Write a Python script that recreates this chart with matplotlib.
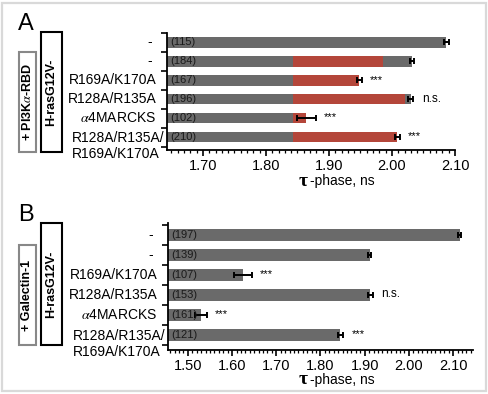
import numpy as np
import matplotlib
matplotlib.use('Agg')
import matplotlib.pyplot as plt
from matplotlib.patches import Rectangle
from matplotlib.ticker import MultipleLocator

plt.rcParams['font.family'] = ['Liberation Sans', 'DejaVu Sans']
plt.rcParams['mathtext.fontset'] = 'stix'

W, H = 488, 394

# ── Data ──────────────────────────────────────────────────────────────────────
row_labels = ['- ', '- ', 'R169A/K170A', 'R128A/R135A', r'$\alpha$4MARCKS',
              'R128A/R135A/\nR169A/K170A']
sig = ['', '', '***', 'n.s.', '***', '***']

a_counts  = [115, 184, 167, 196, 102, 210]
a_tau     = [2.086, 2.032, 1.948, 2.030, 1.864, 2.008]
a_err     = [0.004, 0.003, 0.004, 0.004, 0.015, 0.004]
a_red_lo  = 1.843
a_red_hi  = [np.nan, 1.986, 1.948, 2.020, 1.864, 2.008]

b_counts  = [197, 139, 107, 153, 161, 121]
b_tau     = [2.115, 1.911, 1.624, 1.913, 1.530, 1.845]
b_err     = [0.003, 0.004, 0.020, 0.005, 0.013, 0.006]

GRAY = '#6a6a6a'
RED  = '#b4463a'

fig = plt.figure(figsize=(W / 100, H / 100), dpi=100, facecolor='white')

def px_ax(l, t, r, b):
    return fig.add_axes([l / W, 1 - b / H, (r - l) / W, (b - t) / H])

# light frame round the whole figure
fig.patches.append(Rectangle((2 / W, 3 / H), 484 / W, 388 / H, transform=fig.transFigure,
                             fill=False, ec='#d9d9d9', lw=1.6))

def panel(ax, tau, err, counts, xlim, ylim, height, red_hi=None, red_lo=None):
    y = np.arange(len(tau))
    ax.barh(y, np.array(tau) - xlim[0], left=xlim[0], height=height, color=GRAY, zorder=1)
    if red_hi is not None:
        hi = np.array(red_hi)
        ok = ~np.isnan(hi)
        ax.barh(y[ok], hi[ok] - red_lo, left=red_lo, height=height, color=RED, zorder=2)
    ax.errorbar(tau, y, xerr=err, fmt='none', ecolor='black', elinewidth=1.4,
                capsize=2.2, capthick=1.4, zorder=3)
    for i, n in enumerate(counts):
        ax.annotate(f'({n})', xy=(xlim[0], i), xytext=(2, 0), textcoords='offset points',
                    va='center', ha='left', fontsize=8, color='#1a1a1a', zorder=4)
    for i, s in enumerate(sig):
        if s:
            ax.annotate(s, xy=(tau[i] + err[i], i), xytext=(6, 0.5),
                        textcoords='offset points', va='center', ha='left',
                        fontsize=8.5 if s == 'n.s.' else 8, color='black')
    for i, lab in enumerate(row_labels):
        if '\n' in lab:
            ax.annotate(lab, xy=(xlim[0], i), xytext=(-1.5, -6.5), textcoords='offset points',
                        va='center', ha='right', multialignment='left', fontsize=10,
                        linespacing=1.15, annotation_clip=False)
        else:
            ax.annotate(lab, xy=(xlim[0], i), xytext=(-7.5, 0), textcoords='offset points',
                        va='center', ha='right', fontsize=10)
    ax.set_xlim(*xlim)
    ax.set_ylim(*ylim)
    ax.set_yticks(np.arange(-0.5, len(tau), 1))
    ax.set_yticklabels([])
    ax.tick_params(axis='y', length=4, width=1.2, direction='out')
    ax.xaxis.set_major_locator(MultipleLocator(0.1))
    ax.xaxis.set_minor_locator(MultipleLocator(0.01))
    ax.xaxis.set_major_formatter(plt.FormatStrFormatter('%.2f'))
    ax.tick_params(axis='x', which='major', length=4.5, width=1.2, labelsize=10.5, pad=2)
    ax.tick_params(axis='x', which='minor', length=2.2, width=0.9)
    for s in ['top', 'right']:
        ax.spines[s].set_visible(False)
    for s in ['left', 'bottom']:
        ax.spines[s].set_linewidth(1.3)

ax_a = px_ax(167, 33, 455, 150)
panel(ax_a, a_tau, a_err, a_counts, (1.643, 2.10), (5.68, -0.48), 0.55,
      red_hi=a_red_hi, red_lo=a_red_lo)

ax_b = px_ax(168, 223, 473, 350)
panel(ax_b, b_tau, b_err, b_counts, (1.455, 2.145), (5.75, -0.6), 0.62)

# x labels
for ytop in (181, 380):
    fig.text(299 / W, 1 - ytop / H, 'τ', family='Liberation Serif', fontsize=14,
             fontweight='bold', ha='left', va='center')
    fig.text(310 / W, 1 - ytop / H, '-phase, ns', fontsize=10, ha='left', va='center')

# panel letters
fig.text(18 / W, 1 - 24 / H, 'A', fontsize=17, ha='left', va='center')
fig.text(18 / W, 1 - 215 / H, 'B', fontsize=17, ha='left', va='center')

# side boxes
def side_box(l, t, r, b, text, ec):
    fig.patches.append(Rectangle((l / W, 1 - b / H), (r - l) / W, (b - t) / H,
                                 transform=fig.transFigure, fill=False, ec=ec, lw=1.5))
    fig.text((l + r) / 2 / W, 1 - (t + b) / 2 / H, text, rotation=90, ha='center',
             va='center', fontsize=9, fontweight='bold')

side_box(41, 32, 62, 152, 'H-rasG12V-', 'black')
side_box(19, 52, 36, 152, r'+ PI3K$\alpha$-RBD', '#888888')
side_box(41, 223, 62, 345, 'H-rasG12V-', 'black')
side_box(19, 245, 36, 345, '+ Galectin-1', '#888888')

fig.savefig('out.png', dpi=100, facecolor='white')
